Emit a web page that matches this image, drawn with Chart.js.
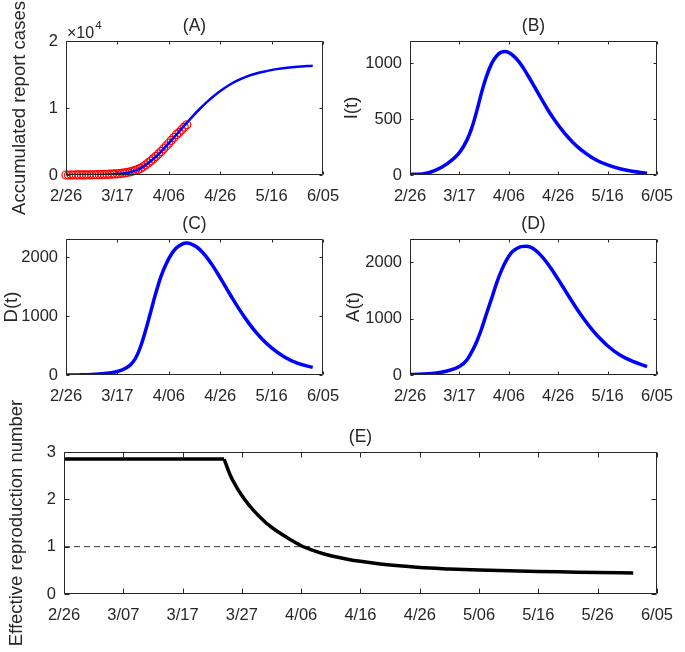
<!DOCTYPE html>
<html>
<head>
<meta charset="utf-8">
<script src="https://cdn.jsdelivr.net/npm/chart.js@4.4.1/dist/chart.umd.min.js"></script>
<style>
  html, body { margin: 0; padding: 0; background: #fff; }
  #wrap { position: relative; width: 685px; height: 652px; overflow: hidden; }
  #wrap canvas { position: absolute; left: 0; top: 0; }
</style>
</head>
<body>
<div id="wrap">
  <canvas id="chartA" width="685" height="652"></canvas>
  <canvas id="chartB" width="685" height="652"></canvas>
  <canvas id="chartC" width="685" height="652"></canvas>
  <canvas id="chartD" width="685" height="652"></canvas>
  <canvas id="chartE" width="685" height="652"></canvas>
</div>
<script>
// days counted from 2/26
const dateTicks = ['2/26', '3/17', '4/06', '4/26', '5/16', '6/05'];
const dateTicksE = ['2/26', '3/07', '3/17', '3/27', '4/06', '4/16', '4/26', '5/06', '5/16', '5/26', '6/05'];

// (A) accumulated reported cases: model fit + daily reports
const fitDays = [0, 5, 10, 15, 20, 24, 28, 31, 34, 37, 40, 43, 46, 49, 52, 55, 58, 61, 64, 67, 70, 74, 78, 82, 86, 90, 96];
const fitCases = [2, 5, 15, 50, 150, 350, 800, 1500, 2400, 3500, 4750, 6050, 7350, 8650, 9850, 10950, 11950, 12800, 13550, 14150, 14650, 15150, 15500, 15800, 16000, 16150, 16300];
const reportedCases = [1, 1, 2, 3, 5, 7, 10, 14, 20, 25, 30, 38, 45, 55, 70, 85, 100, 120, 140, 160,
  180, 220, 270, 330, 400, 480, 580, 700, 830, 1000, 1230, 1500, 1800, 2100, 2420, 2780, 3150, 3520,
  3920, 4330, 4740, 5180, 5600, 6050, 6350, 6750, 7150, 7500];

// (B) I(t)
const iDays = [0, 5, 10, 15, 20, 23, 25, 27, 29, 31, 33, 35, 37, 38.5, 40, 42, 44, 46, 48, 50, 52, 54, 56, 58, 60, 62, 64, 66, 68, 70, 73, 76, 80, 85, 90, 96];
const iValues = [5, 10, 40, 100, 200, 310, 420, 570, 740, 885, 995, 1065, 1100, 1106, 1096, 1065, 1018, 955, 882, 805, 728, 652, 578, 510, 447, 390, 338, 292, 250, 213, 166, 128, 90, 56, 33, 15];

// (C) D(t)
const dDays = [0, 5, 10, 15, 20, 23, 25, 27, 29, 31, 33, 35, 37, 39, 41, 43, 45, 47, 49, 51, 53, 55, 57, 59, 61, 63, 65, 67, 70, 73, 76, 80, 85, 90, 96];
const dValues = [0, 2, 8, 25, 60, 110, 170, 280, 480, 760, 1080, 1400, 1680, 1890, 2050, 2160, 2220, 2240, 2220, 2170, 2090, 1986, 1862, 1724, 1578, 1430, 1284, 1144, 949, 775, 625, 461, 306, 201, 129];

// (D) A(t)
const aDays = [0, 10, 15, 20, 23, 25, 27, 29, 31, 33, 35, 37, 39, 41, 43, 45, 47, 49, 51, 53, 55, 57, 59, 61, 63, 65, 67, 70, 73, 76, 80, 85, 90, 96];
const aValues = [10, 30, 70, 150, 265, 410, 590, 820, 1090, 1350, 1620, 1850, 2030, 2165, 2235, 2275, 2280, 2260, 2204, 2120, 2016, 1896, 1764, 1626, 1486, 1346, 1210, 1018, 844, 691, 519, 354, 244, 150];

// (E) effective reproduction number
const rDays = [0, 27, 28, 29, 30, 31, 32, 33, 34, 35, 36, 37, 38, 39, 40, 41, 42, 44, 46, 48, 50, 53, 56, 60, 65, 70, 75, 80, 85, 90, 96];
const rValues = [2.85, 2.85, 2.52, 2.28, 2.08, 1.91, 1.76, 1.63, 1.51, 1.41, 1.32, 1.24, 1.16, 1.09, 1.02, 0.97, 0.92, 0.84, 0.78, 0.73, 0.69, 0.64, 0.60, 0.56, 0.53, 0.505, 0.49, 0.475, 0.465, 0.455, 0.445];
const thresholdDays = [0, 100];
const thresholdValues = [1, 1];

const ink = '#262626';
const blue = '#0000ff';
Chart.defaults.font.family = '"Liberation Sans", Arial, Helvetica, sans-serif';
Chart.defaults.color = ink;

function pts(xs, ys) {
  return xs.map((x, i) => ({ x: x, y: ys[i] }));
}

function curve(xs, ys, color, width) {
  return {
    data: pts(xs, ys),
    borderColor: color,
    borderWidth: width,
    pointRadius: 0,
    fill: false,
    cubicInterpolationMode: 'monotone'
  };
}

// matlab-like box with inward ticks on all four sides, plus panel title
const frame = {
  id: 'frame',
  afterDatasetsDraw(chart, args, opts) {
    const { ctx, chartArea: a, scales: { x, y } } = chart;
    const L = Math.round(a.left) + 0.5, R = Math.round(a.right) - 0.5;
    const T = Math.round(a.top) + 0.5, B = Math.round(a.bottom) - 0.5;
    ctx.save();
    ctx.strokeStyle = ink;
    ctx.lineWidth = 1;
    ctx.beginPath();
    ctx.rect(L, T, R - L, B - T);
    x.ticks.forEach(t => {
      const px = Math.round(x.getPixelForValue(t.value)) + 0.5;
      ctx.moveTo(px, B); ctx.lineTo(px, B - opts.tick);
      ctx.moveTo(px, T); ctx.lineTo(px, T + opts.tick);
    });
    y.ticks.forEach(t => {
      const py = Math.round(y.getPixelForValue(t.value)) + 0.5;
      ctx.moveTo(L, py); ctx.lineTo(L + opts.tick, py);
      ctx.moveTo(R, py); ctx.lineTo(R - opts.tick, py);
    });
    ctx.stroke();

    ctx.fillStyle = ink;
    ctx.font = '17.5px "Liberation Sans", Arial, sans-serif';
    ctx.textAlign = 'center';
    ctx.textBaseline = 'middle';
    ctx.fillText(opts.title, (a.left + a.right) / 2, a.top - 15);

    if (opts.exponent) {
      ctx.textAlign = 'left';
      ctx.textBaseline = 'alphabetic';
      ctx.font = '16px "Liberation Sans", Arial, sans-serif';
      ctx.fillText('\u00d710', 67, 38);
      const w = ctx.measureText('\u00d710').width;
      ctx.font = '11.5px "Liberation Sans", Arial, sans-serif';
      ctx.fillText(opts.exponent, 67 + w + 1, 29);
    }
    ctx.restore();
  }
};

// ticks at every multiple of the step between 0 and max
function stepTicks(step, max) {
  return s => {
    const t = [];
    for (let v = 0; v <= max + 1e-9; v += step) t.push({ value: v });
    s.ticks = t;
  };
}

function panel(id, box, cfg) {
  const W = 685, H = 652, xHeight = 34;
  const titleSize = 18.5;
  const padLeft = box.labelX - titleSize * 1.2 / 2;
  const yWidth = box.l - padLeft;
  const xLabels = cfg.xLabels;
  const xStep = 100 / (xLabels.length - 1);
  return new Chart(document.getElementById(id), {
    type: 'line',
    data: { datasets: cfg.datasets },
    options: {
      responsive: false,
      animation: false,
      events: [],
      layout: { padding: { left: padLeft, top: box.t, right: W - box.r, bottom: H - box.b - xHeight } },
      plugins: {
        legend: { display: false },
        tooltip: { enabled: false },
        frame: { title: cfg.title, tick: cfg.tick, exponent: cfg.exponent }
      },
      scales: {
        x: {
          type: 'linear',
          min: 0,
          max: 100,
          afterFit: s => { s.height = xHeight; },
          afterBuildTicks: stepTicks(xStep, 100),
          grid: { display: false, drawTicks: false },
          border: { display: false },
          ticks: {
            autoSkip: false,
            maxRotation: 0,
            padding: 12,
            font: { size: 16.5 },
            callback: v => xLabels[Math.round(v / xStep)]
          }
        },
        y: {
          min: 0,
          max: cfg.yMax,
          afterFit: s => { s.width = yWidth; },
          afterBuildTicks: stepTicks(cfg.yStep, cfg.yMax),
          grid: { display: false, drawTicks: false },
          border: { display: false },
          ticks: {
            autoSkip: false,
            padding: 8,
            font: { size: 16.5 },
            callback: cfg.yFormat || (v => v)
          },
          title: { display: true, text: cfg.yTitle, padding: 0, font: { size: titleSize } }
        }
      }
    },
    plugins: [frame]
  });
}

panel('chartA', { l: 66, t: 41, r: 323, b: 175, labelX: 20 }, {
  title: '(A)', yTitle: 'Accumulated report cases', exponent: '4',
  yMax: 20000, yStep: 10000, yFormat: v => v / 10000, tick: 3, xLabels: dateTicks,
  datasets: [
    curve(fitDays, fitCases, blue, 2.5),
    {
      data: reportedCases.map((v, i) => ({ x: i, y: v })),
      showLine: false,
      pointStyle: 'circle',
      pointRadius: 4,
      pointBorderWidth: 1.2,
      pointBorderColor: '#ff0000',
      pointBackgroundColor: 'rgba(0,0,0,0)',
      clip: false
    }
  ]
});

panel('chartB', { l: 410, t: 41, r: 666, b: 175, labelX: 352 }, {
  title: '(B)', yTitle: 'I(t)', yMax: 1200, yStep: 500, tick: 3, xLabels: dateTicks,
  datasets: [curve(iDays, iValues, blue, 3.5)]
});

panel('chartC', { l: 66, t: 239, r: 323, b: 375, labelX: 12 }, {
  title: '(C)', yTitle: 'D(t)', yMax: 2310, yStep: 1000, tick: 3, xLabels: dateTicks,
  datasets: [curve(dDays, dValues, blue, 3.5)]
});

panel('chartD', { l: 410, t: 239, r: 666, b: 375, labelX: 354 }, {
  title: '(D)', yTitle: 'A(t)', yMax: 2410, yStep: 1000, tick: 3, xLabels: dateTicks,
  datasets: [curve(aDays, aValues, blue, 3.5)]
});

panel('chartE', { l: 64, t: 452, r: 668, b: 594, labelX: 17 }, {
  title: '(E)', yTitle: 'Effective reproduction number', yMax: 3, yStep: 1, tick: 5, xLabels: dateTicksE,
  datasets: [
    Object.assign(curve(rDays.slice(0, 2), rValues.slice(0, 2), '#000000', 3.5), { cubicInterpolationMode: 'default', tension: 0 }),
    curve(rDays.slice(1), rValues.slice(1), '#000000', 3.5),
    {
      data: pts(thresholdDays, thresholdValues),
      borderColor: '#333333',
      borderWidth: 1,
      borderDash: [6, 4],
      pointRadius: 0,
      tension: 0
    }
  ]
});
</script>
</body>
</html>
